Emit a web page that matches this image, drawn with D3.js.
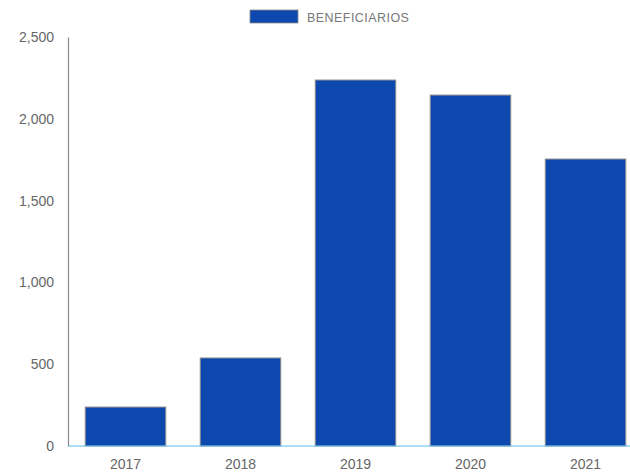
<!DOCTYPE html>
<html><head><meta charset="utf-8">
<script src="https://cdn.jsdelivr.net/npm/d3@7"></script>
<style>body{margin:0;background:#fff;font-family:"Liberation Sans",Arial,sans-serif;}</style>
</head><body><svg id="c" width="630" height="476"></svg>
<script>
const categories = ["2017","2018","2019","2020","2021"];
const values = [238, 538, 2237, 2145, 1754];
const yTicks = [0, 500, 1000, 1500, 2000, 2500];
const seriesName = "BENEFICIARIOS";

(function () {
const svg = d3.select("#c");
const mLeft = 68, mRight = 643, mTop = 37, mBottom = 446;
const x = d3.scaleBand().domain(categories).range([mLeft, mRight]).paddingInner(0.3).paddingOuter(0.15);
const y = d3.scaleLinear().domain([0, 2500]).range([mBottom, mTop]);

// y axis
const ya = svg.append("g").attr("transform", `translate(${mLeft},0)`)
  .call(d3.axisLeft(y).tickValues(yTicks).tickSize(0).tickPadding(14).tickFormat(d3.format(",")));
ya.select(".domain").attr("stroke", "#8a8a8a").attr("stroke-width", 1.2);
ya.selectAll("text").attr("fill", "#666").attr("font-size", 14).attr("font-family", "Liberation Sans, Arial, sans-serif");

// bars
svg.append("g").selectAll("rect").data(values).join("rect")
  .attr("x", (d, i) => x(categories[i]))
  .attr("y", d => y(d))
  .attr("width", x.bandwidth())
  .attr("height", d => y(0) - y(d))
  .attr("fill", "#0c48ae")
  .attr("stroke", "#8d8d8d")
  .attr("stroke-width", 1);

// x axis
const xa = svg.append("g").attr("transform", `translate(0,${mBottom})`)
  .call(d3.axisBottom(x).tickSize(0).tickPadding(13));
xa.select(".domain").attr("stroke", "#5bc0f0").attr("stroke-width", 1.2).attr("d", `M${mLeft},0H630`);
xa.selectAll("text").attr("fill", "#666").attr("font-size", 14).attr("font-family", "Liberation Sans, Arial, sans-serif");

// legend
svg.append("rect").attr("x", 250).attr("y", 10).attr("width", 48).attr("height", 13)
  .attr("fill", "#0c48ae").attr("stroke", "#8d8d8d").attr("stroke-width", 0.8);
svg.append("text").attr("x", 307).attr("y", 21.5).text(seriesName)
  .attr("fill", "#777").attr("font-size", 12.5).attr("letter-spacing", "0.45")
  .attr("font-family", "Liberation Sans, Arial, sans-serif");
})();
</script></body></html>
